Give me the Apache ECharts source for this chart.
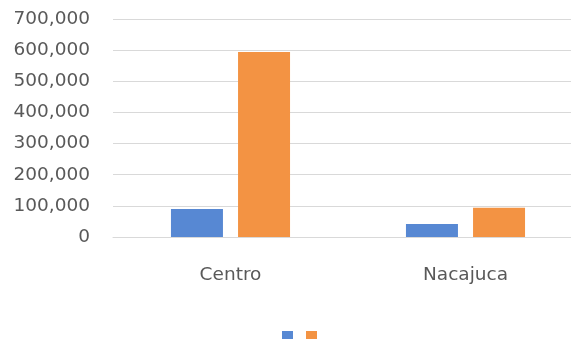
<!DOCTYPE html>
<html><head><meta charset="utf-8">
<script src="https://cdn.jsdelivr.net/npm/echarts@6/dist/echarts.min.js"></script>
<style>html,body{margin:0;padding:0;background:#fff}#c{width:571px;height:339px}</style>
</head><body><div id="c"></div>
<script>
const categories = ['Centro', 'Nacajuca'];
const series1 = [90000, 42000];
const series2 = [594000, 94000];
const yTicks = [0, 700000, 100000]; // min, max, interval

const chart = echarts.init(document.getElementById('c'));
chart.setOption({
  animation: false,
  grid: { left: 113, top: 19, width: 470, height: 218, outerBoundsMode: 'none', containLabel: false },
  legend: {
    data: ['s1', 's2'], formatter: () => '', left: 277, top: 326,
    itemWidth: 11, itemHeight: 11, itemGap: 13, icon: 'rect', textStyle: { fontSize: 1 }
  },
  xAxis: {
    type: 'category', data: categories,
    axisLine: { lineStyle: { color: '#d9d9d9', width: 1 } },
    axisTick: { show: false },
    axisLabel: { color: '#595959', fontSize: 18.5, fontFamily: 'DejaVu Sans', margin: 29 }
  },
  yAxis: {
    type: 'value', min: yTicks[0], max: yTicks[1], interval: yTicks[2],
    axisLine: { show: false }, axisTick: { show: false },
    splitLine: { lineStyle: { color: '#d9d9d9', width: 1 } },
    axisLabel: { color: '#595959', fontSize: 18.5, fontFamily: 'DejaVu Sans', margin: 23,
      formatter: v => v.toLocaleString('en-US') }
  },
  series: [
    { name: 's1', type: 'bar', data: series1, barWidth: 52, barGap: '29%', itemStyle: { color: '#5788D3' } },
    { name: 's2', type: 'bar', data: series2, barWidth: 52, itemStyle: { color: '#F39343' } }
  ]
});
</script></body></html>
